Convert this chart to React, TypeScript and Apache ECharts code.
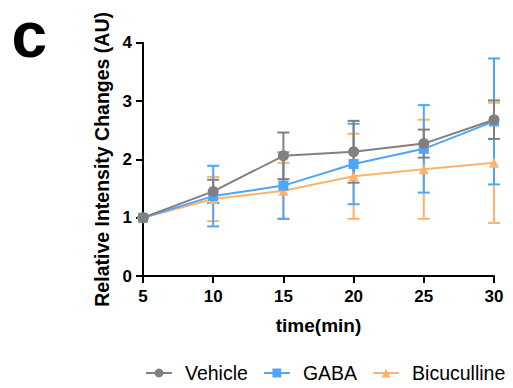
import React, { useEffect, useRef } from "react";
import * as echarts from "echarts";

const times = [5, 10, 15, 20, 25, 30];
const vehicleMean = [1.0, 1.45, 2.06, 2.13, 2.27, 2.68];
const vehicleErr = [0, 0.2, 0.4, 0.53, 0.24, 0.33];
const gabaMean = [1.0, 1.37, 1.55, 1.92, 2.18, 2.65];
const gabaErr = [0, 0.52, 0.57, 0.69, 0.75, 1.08];
const bicuMean = [1.0, 1.32, 1.46, 1.71, 1.83, 1.94];
const bicuErr = [0, 0.38, 0.48, 0.73, 0.85, 1.03];
const yTicks = [0, 1, 2, 3, 4];

const FONT = "Liberation Sans, Arial, sans-serif";

function errSeries(name: string, mean: number[], err: number[], color: string) {
  return {
    type: "custom",
    name: name + "_err",
    z: 1,
    silent: true,
    data: times.map((t, i) => [t, mean[i] - err[i], mean[i] + err[i]]),
    renderItem: (params: any, api: any) => {
      const x = api.value(0);
      const lo = api.coord([x, api.value(1)]);
      const hi = api.coord([x, api.value(2)]);
      const w = 6;
      const style = { stroke: color, lineWidth: 2, fill: "none" };
      return {
        type: "group",
        children: [
          { type: "line", shape: { x1: lo[0], y1: lo[1], x2: hi[0], y2: hi[1] }, style },
          { type: "line", shape: { x1: lo[0] - w, y1: lo[1], x2: lo[0] + w, y2: lo[1] }, style },
          { type: "line", shape: { x1: hi[0] - w, y1: hi[1], x2: hi[0] + w, y2: hi[1] }, style },
        ],
      };
    },
  };
}

export default function App() {
  const ref = useRef<HTMLDivElement>(null);
  useEffect(() => {
    const chart = echarts.init(ref.current!, null, { renderer: "svg" });
    const grey = "#808080";
    const blue = "#4fa6f9";
    const orange = "#fdb46a";
    chart.setOption({
      animation: false,
      backgroundColor: "#fff",
      textStyle: { fontFamily: FONT },
      graphic: [
        {
          type: "text",
          x: 11.5,
          y: 34.5,
          style: { text: "c", font: "bold 64px " + FONT, fill: "#000", verticalAlign: "middle" },
        },
      ],
      legend: {
        top: 363,
        left: 145,
        width: 368,
        padding: 0,
        itemWidth: 26,
        itemHeight: 11,
        itemGap: 15,
        textStyle: { fontSize: 19.5, color: "#000", fontFamily: FONT, padding: [0, 0, 0, 8] },
        data: ["Vehicle", "GABA", "Bicuculline"],
      },
      grid: { left: 143, right: 19, top: 42.7, bottom: 112, containLabel: false },
      xAxis: {
        type: "value",
        min: 5,
        max: 30,
        interval: 5,
        name: "time(min)",
        nameLocation: "middle",
        nameGap: 40,
        nameTextStyle: { fontSize: 19, fontWeight: "bold", color: "#000", fontFamily: FONT },
        axisLine: { show: true, onZero: false, lineStyle: { color: "#000", width: 2 } },
        axisTick: { show: true, length: 7, lineStyle: { color: "#000", width: 2 } },
        axisLabel: { fontSize: 17, fontWeight: "bold", color: "#000", margin: 12 },
        splitLine: { show: false },
      },
      yAxis: {
        type: "value",
        min: yTicks[0],
        max: yTicks[yTicks.length - 1],
        interval: 1,
        name: "Relative Intensity Changes (AU)",
        nameLocation: "middle",
        nameGap: 25,
        nameTextStyle: { fontSize: 19.5, fontWeight: "bold", color: "#000", fontFamily: FONT },
        axisLine: { show: true, onZero: false, lineStyle: { color: "#000", width: 2 } },
        axisTick: { show: true, length: 7, lineStyle: { color: "#000", width: 2 } },
        axisLabel: { fontSize: 17, fontWeight: "bold", color: "#000", margin: 11 },
        splitLine: { show: false },
      },
      series: [
        errSeries("Bicuculline", bicuMean, bicuErr, orange),
        errSeries("GABA", gabaMean, gabaErr, blue),
        errSeries("Vehicle", vehicleMean, vehicleErr, grey),
        {
          type: "line",
          name: "Bicuculline",
          z: 3,
          data: times.map((t, i) => [t, bicuMean[i]]),
          symbol: "triangle",
          symbolSize: 10,
          color: orange,
          lineStyle: { width: 2, color: orange },
        },
        {
          type: "line",
          name: "GABA",
          z: 4,
          data: times.map((t, i) => [t, gabaMean[i]]),
          symbol: "rect",
          symbolSize: 10,
          color: blue,
          lineStyle: { width: 2, color: blue },
        },
        {
          type: "line",
          name: "Vehicle",
          z: 5,
          data: times.map((t, i) => [t, vehicleMean[i]]),
          symbol: "circle",
          symbolSize: 11,
          color: grey,
          lineStyle: { width: 2, color: grey },
        },
      ],
    });
    return () => chart.dispose();
  }, []);
  return (
    <div
      ref={ref}
      style={{ position: "fixed", left: 0, top: 0, width: 513, height: 388 }}
    />
  );
}
